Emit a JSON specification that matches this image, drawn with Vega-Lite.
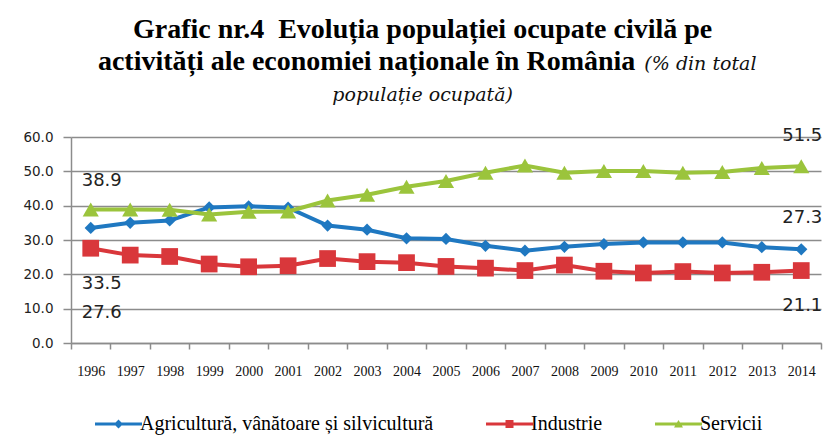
{
  "$schema": "https://vega.github.io/schema/vega-lite/v6.json",
  "width": 750,
  "height": 206,
  "autosize": {"type": "none"},
  "padding": {"left": 71, "top": 137, "right": 14, "bottom": 103},
  "background": "white",
  "title": {
    "text": ["Grafic nr.4\u00a0 Evoluția populației ocupate civilă pe", "activități ale economiei naționale în România\u00a0\u00a0\u00a0\u00a0\u00a0\u00a0\u00a0\u00a0\u00a0\u00a0\u00a0\u00a0\u00a0\u00a0\u00a0\u00a0\u200b"],
    "subtitle": ["\u200b\u00a0\u00a0\u00a0\u00a0\u00a0\u00a0\u00a0\u00a0\u00a0\u00a0\u00a0\u00a0\u00a0\u00a0\u00a0\u00a0\u00a0\u00a0\u00a0\u00a0\u00a0\u00a0\u00a0\u00a0\u00a0\u00a0\u00a0\u00a0\u00a0\u00a0\u00a0\u00a0\u00a0\u00a0\u00a0\u00a0\u00a0\u00a0\u00a0\u00a0\u00a0\u00a0\u00a0\u00a0\u00a0\u00a0\u00a0\u00a0\u00a0\u00a0\u00a0\u00a0\u00a0\u00a0\u00a0\u00a0\u00a0\u00a0\u00a0\u00a0\u00a0\u00a0\u00a0\u00a0\u00a0\u00a0\u00a0\u00a0\u00a0\u00a0\u00a0\u00a0\u00a0\u00a0\u00a0\u00a0\u00a0\u00a0\u00a0\u00a0\u00a0\u00a0\u00a0\u00a0\u00a0\u00a0\u00a0\u00a0\u00a0\u00a0\u00a0\u00a0(% din total", "populație ocupată)"],
    "anchor": "middle",
    "frame": "bounds",
    "font": "Liberation Serif",
    "fontSize": 28,
    "fontWeight": "bold",
    "color": "#000000",
    "lineHeight": 32,
    "subtitleFont": "DejaVu Serif",
    "subtitleFontSize": 19,
    "subtitleFontStyle": "italic",
    "subtitleColor": "#111111",
    "subtitleLineHeight": 31,
    "subtitlePadding": -21,
    "offset": 22
  },
  "datasets": {
    "main": [
      {"year": "1996", "series": "Agricultură, vânătoare și silvicultură", "value": 33.5},
      {"year": "1997", "series": "Agricultură, vânătoare și silvicultură", "value": 35.0},
      {"year": "1998", "series": "Agricultură, vânătoare și silvicultură", "value": 35.7},
      {"year": "1999", "series": "Agricultură, vânătoare și silvicultură", "value": 39.5},
      {"year": "2000", "series": "Agricultură, vânătoare și silvicultură", "value": 39.8},
      {"year": "2001", "series": "Agricultură, vânătoare și silvicultură", "value": 39.4},
      {"year": "2002", "series": "Agricultură, vânătoare și silvicultură", "value": 34.2},
      {"year": "2003", "series": "Agricultură, vânătoare și silvicultură", "value": 33.0},
      {"year": "2004", "series": "Agricultură, vânătoare și silvicultură", "value": 30.5},
      {"year": "2005", "series": "Agricultură, vânătoare și silvicultură", "value": 30.3},
      {"year": "2006", "series": "Agricultură, vânătoare și silvicultură", "value": 28.3},
      {"year": "2007", "series": "Agricultură, vânătoare și silvicultură", "value": 26.9},
      {"year": "2008", "series": "Agricultură, vânătoare și silvicultură", "value": 28.0},
      {"year": "2009", "series": "Agricultură, vânătoare și silvicultură", "value": 28.8},
      {"year": "2010", "series": "Agricultură, vânătoare și silvicultură", "value": 29.3},
      {"year": "2011", "series": "Agricultură, vânătoare și silvicultură", "value": 29.3},
      {"year": "2012", "series": "Agricultură, vânătoare și silvicultură", "value": 29.3},
      {"year": "2013", "series": "Agricultură, vânătoare și silvicultură", "value": 27.9},
      {"year": "2014", "series": "Agricultură, vânătoare și silvicultură", "value": 27.3},
      {"year": "1996", "series": "Industrie", "value": 27.6},
      {"year": "1997", "series": "Industrie", "value": 25.6},
      {"year": "1998", "series": "Industrie", "value": 25.2},
      {"year": "1999", "series": "Industrie", "value": 23.0},
      {"year": "2000", "series": "Industrie", "value": 22.2},
      {"year": "2001", "series": "Industrie", "value": 22.5},
      {"year": "2002", "series": "Industrie", "value": 24.6},
      {"year": "2003", "series": "Industrie", "value": 23.7},
      {"year": "2004", "series": "Industrie", "value": 23.4},
      {"year": "2005", "series": "Industrie", "value": 22.3},
      {"year": "2006", "series": "Industrie", "value": 21.8},
      {"year": "2007", "series": "Industrie", "value": 21.1},
      {"year": "2008", "series": "Industrie", "value": 22.7},
      {"year": "2009", "series": "Industrie", "value": 20.9},
      {"year": "2010", "series": "Industrie", "value": 20.4},
      {"year": "2011", "series": "Industrie", "value": 20.8},
      {"year": "2012", "series": "Industrie", "value": 20.4},
      {"year": "2013", "series": "Industrie", "value": 20.6},
      {"year": "2014", "series": "Industrie", "value": 21.1},
      {"year": "1996", "series": "Servicii", "value": 38.9},
      {"year": "1997", "series": "Servicii", "value": 38.9},
      {"year": "1998", "series": "Servicii", "value": 38.8},
      {"year": "1999", "series": "Servicii", "value": 37.4},
      {"year": "2000", "series": "Servicii", "value": 38.2},
      {"year": "2001", "series": "Servicii", "value": 38.3},
      {"year": "2002", "series": "Servicii", "value": 41.5},
      {"year": "2003", "series": "Servicii", "value": 43.2},
      {"year": "2004", "series": "Servicii", "value": 45.5},
      {"year": "2005", "series": "Servicii", "value": 47.2},
      {"year": "2006", "series": "Servicii", "value": 49.6},
      {"year": "2007", "series": "Servicii", "value": 51.7},
      {"year": "2008", "series": "Servicii", "value": 49.6},
      {"year": "2009", "series": "Servicii", "value": 50.1},
      {"year": "2010", "series": "Servicii", "value": 50.1},
      {"year": "2011", "series": "Servicii", "value": 49.6},
      {"year": "2012", "series": "Servicii", "value": 49.8},
      {"year": "2013", "series": "Servicii", "value": 51.0},
      {"year": "2014", "series": "Servicii", "value": 51.5}
    ],
    "labelsLeft": [
      {"year": "1996", "value": 47.1, "label": "38.9"},
      {"year": "1996", "value": 17.3, "label": "33.5"},
      {"year": "1996", "value": 8.6, "label": "27.6"}
    ],
    "labelsRight": [
      {"year": "2014", "value": 60.3, "label": "51.5"},
      {"year": "2014", "value": 36.3, "label": "27.3"},
      {"year": "2014", "value": 10.7, "label": "21.1"}
    ]
  },
  "encoding": {
    "x": {
      "field": "year",
      "type": "ordinal",
      "scale": {"type": "band", "paddingInner": 0, "paddingOuter": 0},
      "axis": {
        "title": null,
        "labelAngle": 0,
        "tickBand": "extent",
        "grid": false,
        "domainColor": "#8c8c8c",
        "domainWidth": 1.5,
        "tickColor": "#8c8c8c",
        "tickWidth": 1.5,
        "tickSize": 6,
        "labelFont": "Liberation Serif",
        "labelFontSize": 14,
        "labelColor": "#111111",
        "labelPadding": 15
      }
    },
    "y": {
      "field": "value",
      "type": "quantitative",
      "scale": {"domain": [0, 60], "nice": false, "zero": true},
      "axis": {
        "title": null,
        "values": [0, 10, 20, 30, 40, 50, 60],
        "format": ".1f",
        "grid": true,
        "gridColor": "#8c8c8c",
        "gridWidth": 1.5,
        "domainColor": "#8c8c8c",
        "domainWidth": 1.5,
        "tickColor": "#8c8c8c",
        "tickWidth": 1.5,
        "tickSize": 8,
        "labelFont": "DejaVu Sans",
        "labelFontSize": 13.5,
        "labelColor": "#222222",
        "labelPadding": 10
      }
    }
  },
  "layer": [
    {
      "data": {"name": "main"},
      "transform": [{"filter": {"field": "series", "equal": "Agricultură, vânătoare și silvicultură"}}],
      "mark": {"type": "line", "color": "#1F78C1", "strokeWidth": 4, "point": {"shape": "diamond", "size": 150, "filled": true, "color": "#1F78C1", "opacity": 1}}
    },
    {
      "data": {"name": "main"},
      "transform": [{"filter": {"field": "series", "equal": "Industrie"}}],
      "mark": {"type": "line", "color": "#D9373B", "strokeWidth": 4, "point": {"shape": "square", "size": 280, "filled": true, "color": "#D9373B", "opacity": 1}}
    },
    {
      "data": {"name": "main"},
      "transform": [{"filter": {"field": "series", "equal": "Servicii"}}],
      "mark": {"type": "line", "color": "#9BC43C", "strokeWidth": 4, "point": {"shape": "triangle-up", "size": 260, "filled": true, "color": "#9BC43C", "opacity": 1}}
    },
    {
      "data": {"name": "labelsLeft"},
      "mark": {"type": "text", "font": "DejaVu Sans", "fontSize": 18, "color": "#222222", "dx": 11},
      "encoding": {"text": {"field": "label"}}
    },
    {
      "data": {"name": "labelsRight"},
      "mark": {"type": "text", "font": "DejaVu Sans", "fontSize": 18, "color": "#222222", "dx": 1},
      "encoding": {"text": {"field": "label"}}
    },
    {
      "data": {"values": []},
      "mark": {"type": "point", "filled": true, "size": 100, "opacity": 1},
      "encoding": {
        "x": null,
        "y": null,
        "color": {
          "field": "series",
          "type": "nominal",
          "scale": {"domain": ["Agricultură, vânătoare și silvicultură", "Industrie", "Servicii"], "range": ["#1F78C1", "#D9373B", "#9BC43C"]},
          "legend": {"title": null}
        },
        "shape": {
          "field": "series",
          "type": "nominal",
          "scale": {"domain": ["Agricultură, vânătoare și silvicultură", "Industrie", "Servicii"], "range": ["M-1,-0.3H8.4V0.3H-1Z M3.7,-0.9L4.6,0L3.7,0.9L2.8,0Z", "M-1,-0.3H8.4V0.3H-1Z M2.9,-0.8H4.5V0.8H2.9Z", "M-1,-0.3H8.4V0.3H-1Z M2.8,0.7L3.7,-0.8L4.6,0.7Z"]},
          "legend": {"title": null}
        }
      }
    }
  ],
  "config": {
    "view": {"stroke": null},
    "legend": {
      "orient": "none",
      "legendX": 19,
      "legendY": 277,
      "padding": 0,
      "direction": "horizontal",
      "columnPadding": 47,
      "labelFont": "Liberation Serif",
      "labelFontSize": 20,
      "labelColor": "#000000",
      "labelOffset": 30,
      "symbolSize": 100,
      "symbolStrokeWidth": 0,
      "labelLimit": 0
    }
  }
}
